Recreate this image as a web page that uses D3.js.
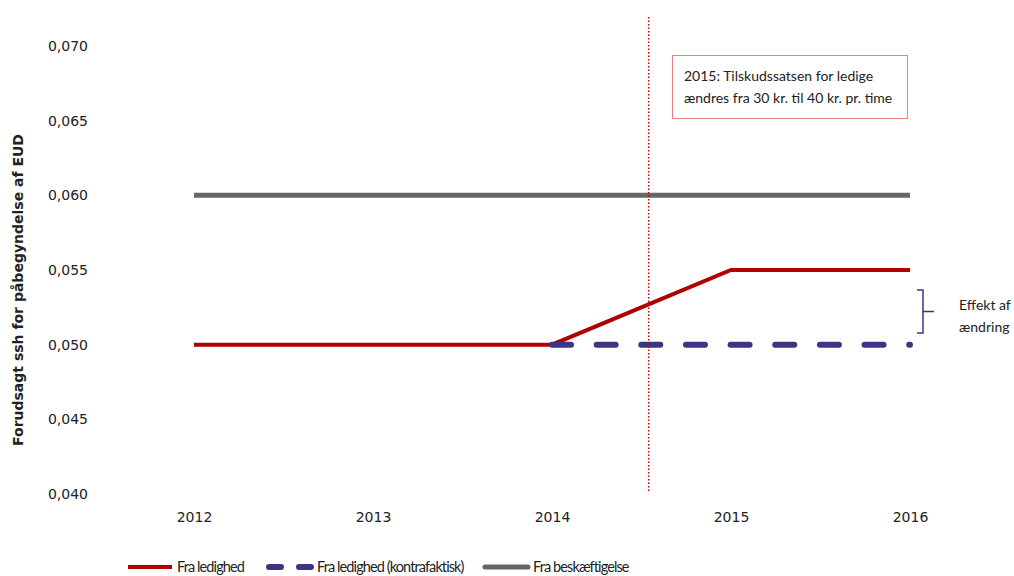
<!DOCTYPE html>
<html>
<head>
<meta charset="utf-8">
<script src="https://cdn.jsdelivr.net/npm/d3@7"></script>
<style>
  body { margin: 0; background: #fff; }
  text { font-family: "DejaVu Sans", Verdana, sans-serif; fill: #222; }
  .lbl { font-family: Lato, "Open Sans", sans-serif; }
  .leg { font-family: Lato, sans-serif; }
</style>
</head>
<body>
<div id="chart-area"></div>
<script>
// data
var years = [2012, 2013, 2014, 2015, 2016];
var fraLedighed = [0.050, 0.050, 0.050, 0.055, 0.055];
var kontraYears = [2014, 2015, 2016];
var kontrafaktisk = [0.050, 0.050, 0.050];
var fraBeskaeftigelse = [0.060, 0.060, 0.060, 0.060, 0.060];
var yTicks = [0.040, 0.045, 0.050, 0.055, 0.060, 0.065, 0.070];
var reformAt = 2014.54;

var width = 1014, height = 576;

var svg = d3.select("#chart-area")
  .append("svg")
  .attr("width", width)
  .attr("height", height);

var x = d3.scaleLinear()
  .domain([2012, 2016])
  .range([194, 910]);

var y = d3.scaleLinear()
  .domain([0.040, 0.070])
  .range([494, 46]);

var fmt = function(d) { return d3.format(".3f")(d).replace(".", ","); };

// y axis (labels only)
var yAxis = svg.append("g")
  .attr("transform", "translate(88,0)")
  .call(d3.axisLeft(y).tickValues(yTicks).tickFormat(fmt).tickSize(0).tickPadding(0));
yAxis.select(".domain").remove();
yAxis.selectAll("text")
  .attr("font-size", "14px")
  .attr("font-family", "DejaVu Sans, Verdana, sans-serif")
  .attr("fill", "#222");

// x axis (labels only)
var xAxis = svg.append("g")
  .attr("transform", "translate(0,512)")
  .call(d3.axisBottom(x).tickValues(years).tickFormat(d3.format("d")).tickSize(0).tickPadding(0));
xAxis.select(".domain").remove();
xAxis.selectAll("text")
  .attr("font-size", "14px")
  .attr("font-family", "DejaVu Sans, Verdana, sans-serif")
  .attr("fill", "#222");

// y title
svg.append("text")
  .attr("transform", "translate(23," + 290 + ") rotate(-90)")
  .attr("text-anchor", "middle")
  .attr("font-size", "14px")
  .attr("font-weight", "bold")
  .text("Forudsagt ssh for påbegyndelse af EUD");

var line = d3.line()
  .x(function(d) { return x(d[0]); })
  .y(function(d) { return y(d[1]); });

// gray
svg.append("path")
  .datum(d3.zip(years, fraBeskaeftigelse))
  .attr("d", line)
  .attr("fill", "none")
  .attr("stroke", "#666666")
  .attr("stroke-width", 5);

// red
svg.append("path")
  .datum(d3.zip(years, fraLedighed))
  .attr("d", line)
  .attr("fill", "none")
  .attr("stroke", "#b00000")
  .attr("stroke-width", 4);

// purple dashed
svg.append("path")
  .datum(d3.zip(kontraYears, kontrafaktisk))
  .attr("d", line)
  .attr("fill", "none")
  .attr("stroke", "#3c3583")
  .attr("stroke-width", 6)
  .attr("stroke-linecap", "round")
  .attr("stroke-dasharray", "19,25.65");

// reform line
svg.append("line")
  .attr("x1", x(reformAt)).attr("x2", x(reformAt))
  .attr("y1", 17).attr("y2", 492)
  .attr("stroke", "#c00000")
  .attr("stroke-width", 1.5)
  .attr("stroke-dasharray", "1.5,2");

// annotation box
svg.append("rect")
  .attr("x", 672.5).attr("y", 55.5)
  .attr("width", 235).attr("height", 63)
  .attr("fill", "#fff")
  .attr("stroke", "#e00000")
  .attr("stroke-width", 1)
  .attr("stroke-dasharray", "1,1");
svg.append("text").attr("class", "lbl")
  .attr("x", 684).attr("y", 81)
  .attr("font-size", "14px")
  .text("2015: Tilskudssatsen for ledige");
svg.append("text").attr("class", "lbl")
  .attr("x", 684).attr("y", 103)
  .attr("font-size", "14px")
  .text("ændres fra 30 kr. til 40 kr.  pr. time");

// bracket
var bx = 917, bTop = y(0.05366), bBot = y(0.05078);
svg.append("path")
  .attr("d", "M" + bx + "," + bTop + "H" + (bx + 6) + "V" + bBot + "H" + bx +
    "M" + (bx + 6) + "," + ((bTop + bBot) / 2) + "H" + (bx + 17))
  .attr("fill", "none")
  .attr("stroke", "#3c3583")
  .attr("stroke-width", 1.5);
svg.append("text").attr("class", "leg")
  .attr("x", 959).attr("y", 310)
  .attr("font-size", "14px")
  .text("Effekt af");
svg.append("text").attr("class", "leg")
  .attr("x", 959).attr("y", 332)
  .attr("font-size", "14px")
  .text("ændring");

// legend
var lg = svg.append("g")
  .attr("font-size", "14.5px")
  .attr("letter-spacing", "-0.9px");
lg.append("line").attr("x1", 128).attr("x2", 172).attr("y1", 567).attr("y2", 567)
  .attr("stroke", "#b00000").attr("stroke-width", 4);
lg.append("text").attr("class", "leg").attr("x", 177).attr("y", 572)
  .text("Fra ledighed");
lg.append("line").attr("x1", 269).attr("x2", 312).attr("y1", 567).attr("y2", 567)
  .attr("stroke", "#3c3583").attr("stroke-width", 6)
  .attr("stroke-linecap", "round").attr("stroke-dasharray", "12,18");
lg.append("text").attr("class", "leg").attr("x", 317).attr("y", 572)
  .text("Fra ledighed (kontrafaktisk)");
lg.append("line").attr("x1", 485).attr("x2", 528).attr("y1", 567).attr("y2", 567)
  .attr("stroke", "#666666").attr("stroke-width", 5).attr("stroke-linecap", "round");
lg.append("text").attr("class", "leg").attr("x", 533).attr("y", 572)
  .text("Fra beskæftigelse");
</script>
</body>
</html>
